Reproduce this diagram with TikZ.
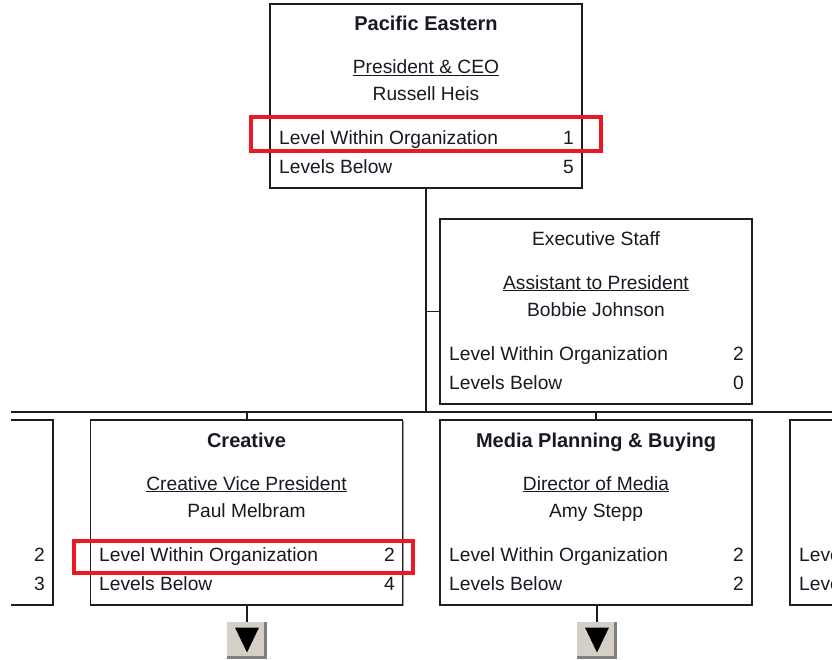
\documentclass[tikz,border=0pt]{standalone}
\usepackage{fontspec}
\setmainfont{Liberation Sans}
\usepackage{tikz}
\usetikzlibrary{shadows}
\definecolor{boxline}{RGB}{30,30,30}
\definecolor{ink}{RGB}{25,25,35}
\definecolor{hired}{RGB}{235,25,35}
\definecolor{btngray}{RGB}{212,208,200}
\definecolor{btnshade}{RGB}{128,128,128}

\begin{document}
\begin{tikzpicture}[x=1pt, y=-1pt,
  orgbox/.style={draw=boxline, line width=1.3pt, fill=white, inner sep=0pt,
    minimum width=312pt, minimum height=185pt,
    drop shadow={shadow xshift=1.2pt, shadow yshift=-1.2pt, fill=black!40, opacity=1}},
  conn/.style={draw=boxline, line width=1.5pt},
  txt/.style={anchor=base, inner sep=0pt, text=ink, font=\fontsize{19.2}{23}\selectfont},
  ttl/.style={txt, font=\fontsize{20}{24}\selectfont\bfseries},
  lft/.style={txt, anchor=base west},
  rgt/.style={txt, anchor=base east},
  hilite/.style={draw=hired, line width=4pt, inner sep=0pt},
  expbtn/.style={fill=btngray, inner sep=0pt, minimum width=40pt, minimum height=37pt}]
\useasboundingbox (0,0) rectangle (832,660);
\clip (11,0) rectangle (832,660);

% bus line between the levels
\coordinate (busL) at (11,412);
\coordinate (busR) at (832,412);

% boxes
\node[orgbox, minimum height=184pt] (pe) at (426,96) {};
\node[orgbox] (es) at (596,311.5) {};
\node[orgbox] (lp) at (-103,512.5) {};
\node[orgbox] (cr) at (246.5,512.5) {};
\node[orgbox] (mp) at (596,512.5) {};
\node[orgbox] (rp) at (946,512.5) {};

% connectors
\draw[conn] (busL) -- (busR);
\draw[conn] (pe.south) -- (pe.south |- busL);
\draw[conn] (es.west) -- (es.west -| pe.south);
\draw[conn] ([xshift=0.5pt]cr.north) -- ([xshift=0.5pt]cr.north |- busL);
\draw[conn] (mp.north) -- (mp.north |- busL);

% Pacific Eastern
\node[ttl] (pe-ttl) at (426,31) {Pacific Eastern};
\node[txt] (pe-job) at (426,74) {\underline{President \& CEO}};
\node[txt] (pe-who) at (426,101) {Russell Heis};
\node[lft] (pe-lvl) at (279,145) {Level Within Organization};
\node[rgt] (pe-lvln) at (574,145) {1};
\node[lft] (pe-blw) at (279,174) {Levels Below};
\node[rgt] (pe-blwn) at (574,174) {5};

% Executive Staff
\node[txt] (es-ttl) at (596,246) {Executive Staff};
\node[txt] (es-job) at (596,289) {\underline{Assistant to President}};
\node[txt] (es-who) at (596,316) {Bobbie Johnson};
\node[lft] (es-lvl) at (449,360) {Level Within Organization};
\node[rgt] (es-lvln) at (744,360) {2};
\node[lft] (es-blw) at (449,389) {Levels Below};
\node[rgt] (es-blwn) at (744,389) {0};

% box cut off on the left
\node[rgt] (lp-lvln) at (45,561) {2};
\node[rgt] (lp-blwn) at (45,590) {3};

% Creative
\node[ttl] (cr-ttl) at (246.5,447) {Creative};
\node[txt] (cr-job) at (246.5,490) {\underline{Creative Vice President}};
\node[txt] (cr-who) at (246.5,517) {Paul Melbram};
\node[lft] (cr-lvl) at (99,561) {Level Within Organization};
\node[rgt] (cr-lvln) at (395,561) {2};
\node[lft] (cr-blw) at (99,590) {Levels Below};
\node[rgt] (cr-blwn) at (395,590) {4};

% Media Planning & Buying
\node[ttl] (mp-ttl) at (596,447) {Media Planning \& Buying};
\node[txt] (mp-job) at (596,490) {\underline{Director of Media}};
\node[txt] (mp-who) at (596,517) {Amy Stepp};
\node[lft] (mp-lvl) at (449,561) {Level Within Organization};
\node[rgt] (mp-lvln) at (744,561) {2};
\node[lft] (mp-blw) at (449,590) {Levels Below};
\node[rgt] (mp-blwn) at (744,590) {2};

% box cut off on the right
\node[lft] (rp-lvl) at (799,561) {Level Within Organization};
\node[lft] (rp-blw) at (799,590) {Levels Below};

% red marks
\node[hilite, minimum width=350pt, minimum height=34pt] (pe-mark) at (426,134) {};
\node[hilite, minimum width=339pt, minimum height=32pt] (cr-mark) at (243.5,557) {};

% expand buttons
\node[expbtn] (cr-btn) at (247,640.5) {};
\node[expbtn] (mp-btn) at (597,640.5) {};
\draw[conn] (cr-btn.north |- cr.south) -- (cr-btn.north);
\draw[conn] (mp-btn.north |- mp.south) -- (mp-btn.north);
\fill[btnshade] ([xshift=-3pt]cr-btn.north east) rectangle (cr-btn.south east);
\fill[btnshade] ([yshift=3pt]cr-btn.south west) rectangle (cr-btn.south east);
\fill[btnshade] ([xshift=-3pt]mp-btn.north east) rectangle (mp-btn.south east);
\fill[btnshade] ([yshift=3pt]mp-btn.south west) rectangle (mp-btn.south east);
\fill[black] (cr-btn.center) ++(-12,-13) -- ++(24,0) -- ++(-12,25) -- cycle;
\fill[black] (mp-btn.center) ++(-12,-13) -- ++(24,0) -- ++(-12,25) -- cycle;
\end{tikzpicture}
\end{document}
